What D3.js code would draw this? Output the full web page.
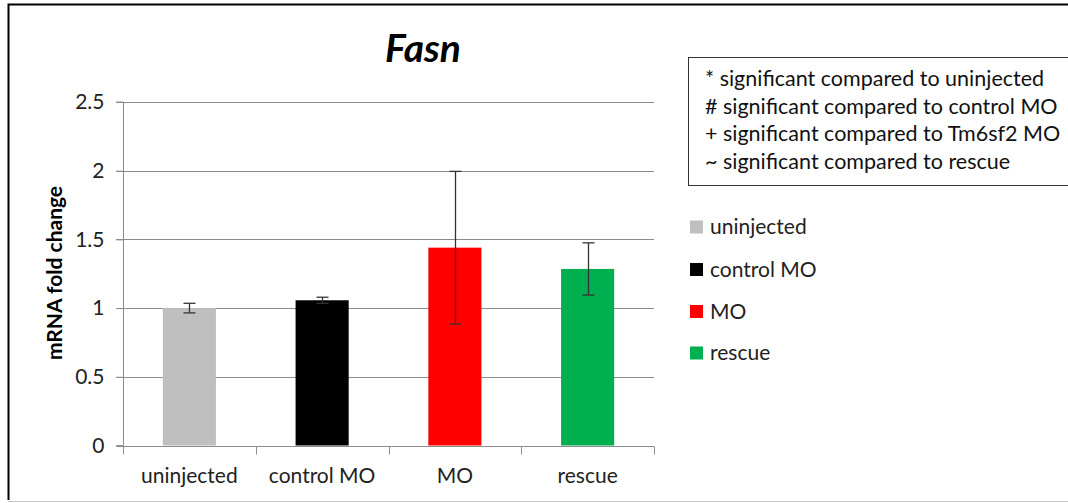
<!DOCTYPE html>
<html><head><meta charset="utf-8">
<script src="https://cdn.jsdelivr.net/npm/d3@7"></script>
<style>body{margin:0;background:#fff;} svg{display:block;font-family:Lato,"Open Sans",sans-serif;}</style>
</head><body>
<svg id="chart" width="1068" height="503"></svg>
<script>
const categories = ["uninjected", "control MO", "MO", "rescue"];
const values = [1.0, 1.057, 1.44, 1.285];
const errors = [0.035, 0.022, 0.555, 0.19];
const colors = ["#bfbfbf", "#000000", "#ff0000", "#00b050"];
const yTicks = [0, 0.5, 1, 1.5, 2, 2.5];
const yTickLabels = ["0", "0.5", "1", "1.5", "2", "2.5"];
const notes = ["* significant compared to uninjected", "# significant compared to control MO", "+ significant compared to Tm6sf2 MO", "~ significant compared to rescue"];
const title = "Fasn";
const yLabel = "mRNA fold change";

const svg = d3.select("#chart");
// outer frame (top and left dark, bottom light)
svg.append("path").attr("d", "M8.5,500V4.5H1068").attr("fill", "none").attr("stroke", "#000").attr("stroke-width", 2);
svg.append("line").attr("x1", 8).attr("x2", 1068).attr("y1", 501.5).attr("y2", 501.5).attr("stroke", "#c8c8c8");

const x = d3.scaleBand().domain(categories).range([123, 654]).paddingInner(0).paddingOuter(0);
const y = d3.scaleLinear().domain([0, 2.5]).range([445.5, 102]);

// gridlines
svg.append("g").selectAll("line").data(yTicks.filter(d => d > 0)).join("line")
  .attr("x1", 116).attr("x2", 654).attr("y1", d => Math.round(y(d)) + 0.5).attr("y2", d => Math.round(y(d)) + 0.5)
  .attr("stroke", "#8c8c8c").attr("stroke-width", 1);

// y axis
const yAxis = d3.axisLeft(y).tickValues(yTicks).tickFormat((d, i) => yTickLabels[i]).tickSize(7).tickPadding(12);
const gy = svg.append("g").attr("transform", "translate(123.5,0)").call(yAxis);
gy.select(".domain").attr("stroke", "#8c8c8c").attr("d", `M-7,${y(2.5)}H0V${y(0)}H-7`);
gy.selectAll(".tick line").attr("stroke", "#8c8c8c");
gy.selectAll(".tick text").attr("font-size", 21).attr("fill", "#222").attr("font-family", "Lato");

// x axis
const gx = svg.append("g").attr("transform", `translate(0,${Math.round(y(0)) + 0.5})`);
gx.append("line").attr("x1", 116).attr("x2", 654).attr("stroke", "#8c8c8c");
const bounds = [...categories.map(c => x(c)), 654];
gx.selectAll(".xt").data(bounds).join("line").attr("class", "xt")
  .attr("x1", d => Math.round(d) + 0.5).attr("x2", d => Math.round(d) + 0.5).attr("y1", 0).attr("y2", 8)
  .attr("stroke", "#8c8c8c");
gx.selectAll("text").data(categories).join("text")
  .attr("x", d => x(d) + x.bandwidth() / 2).attr("y", 36).attr("text-anchor", "middle")
  .attr("font-size", 21).attr("fill", "#222").text(d => d);

// bars
const bw = x.bandwidth() * 0.4;
svg.append("g").selectAll("rect").data(categories).join("rect")
  .attr("x", d => x(d) + (x.bandwidth() - bw) / 2).attr("width", bw)
  .attr("y", (d, i) => y(values[i])).attr("height", (d, i) => y(0) - y(values[i]))
  .attr("fill", (d, i) => colors[i]);

// error bars
const eg = svg.append("g").attr("stroke", "#333").attr("stroke-width", 1.3);
categories.forEach((c, i) => {
  const cx = Math.round(x(c) + x.bandwidth() / 2) + 0.5;
  const t = y(values[i] + errors[i]), b = y(values[i] - errors[i]);
  eg.append("line").attr("x1", cx).attr("x2", cx).attr("y1", t).attr("y2", b);
  eg.append("line").attr("x1", cx - 6).attr("x2", cx + 6).attr("y1", t).attr("y2", t);
  eg.append("line").attr("x1", cx - 6).attr("x2", cx + 6).attr("y1", b).attr("y2", b);
});

// title
svg.append("text").attr("x", 423).attr("y", 62).attr("text-anchor", "middle")
  .attr("font-size", 39).attr("font-weight", "bold").attr("font-style", "italic").text(title);

// y label
svg.append("text").attr("transform", "translate(62,273) rotate(-90)").attr("text-anchor", "middle")
  .attr("font-size", 21).attr("font-weight", "bold").text(yLabel);

// notes box
svg.append("rect").attr("x", 688.5).attr("y", 57.5).attr("width", 400).attr("height", 128)
  .attr("fill", "#fff").attr("stroke", "#333").attr("stroke-width", 1);
svg.append("g").selectAll("text").data(notes).join("text")
  .attr("x", 705).attr("y", (d, i) => 86 + i * 27.7).attr("font-size", 21.5).attr("fill", "#111").text(d => d);

// legend
const lg = svg.append("g");
const legY = [227, 269.5, 311.5, 353];
categories.forEach((c, i) => {
  lg.append("rect").attr("x", 690).attr("y", legY[i] - 6.5).attr("width", 13).attr("height", 13).attr("fill", colors[i]);
  lg.append("text").attr("x", 710).attr("y", legY[i] + 7).attr("font-size", 21).attr("fill", "#222").text(c);
});
</script>
</body></html>
